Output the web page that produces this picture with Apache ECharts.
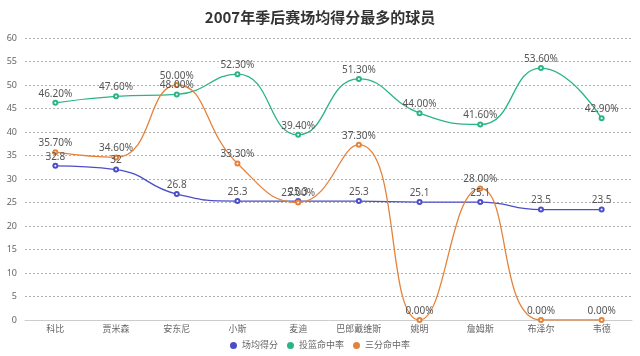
<!DOCTYPE html>
<html><head><meta charset="utf-8">
<script src="https://cdn.jsdelivr.net/npm/echarts@6/dist/echarts.min.js"></script>
<style>html,body{margin:0;padding:0;background:#fff}#c{width:640px;height:356px}</style>
</head><body><div id="c"></div>
<script>
const categories = ['科比','贾米森','安东尼','小斯','麦迪','巴郎戴维斯','姚明','詹姆斯','布泽尔','韦德'];
const points = [32.8, 32, 26.8, 25.3, 25.3, 25.3, 25.1, 25.1, 23.5, 23.5];
const fgPct = [46.2, 47.6, 48.0, 52.3, 39.4, 51.3, 44.0, 41.6, 53.6, 42.9];
const threePct = [35.7, 34.6, 50.0, 33.3, 25.0, 37.3, 0, 28.0, 0, 0];
const yTicks = {min: 0, max: 60, interval: 5};

const chart = echarts.init(document.getElementById('c'));
const font = '"Noto Sans","Noto Sans CJK SC",sans-serif';
function mk(name, data, color, pct) {
  return {
    name, type: 'line', data, smooth: true,
    symbol: 'emptyCircle', symbolSize: 4,
    itemStyle: {color}, lineStyle: {color, width: 1.3},
    label: {show: true, position: 'top', color: '#555', fontSize: 10, fontFamily: font, distance: 1,
      formatter: p => pct ? p.value.toFixed(2) + '%' : String(p.value)}
  };
}
chart.setOption({
  animation: false,
  title: {text: '2007年季后赛场均得分最多的球员', left: 'center', top: 5,
    textStyle: {fontSize: 15, fontWeight: 'bold', color: '#333', fontFamily: '"Noto Sans CJK SC",sans-serif'}},
  legend: {bottom: 1, itemWidth: 7, itemHeight: 7, icon: 'circle', itemGap: 9,
    textStyle: {fontSize: 9, color: '#666', fontFamily: font},
    data: ['场均得分','投篮命中率','三分命中率']},
  grid: {left: 25, right: 8, top: 38, bottom: 36},
  xAxis: {type: 'category', data: categories,
    axisLine: {lineStyle: {color: '#ccc'}}, axisTick: {show: false},
    axisLabel: {color: '#666', fontSize: 9, fontFamily: font, interval: 0, margin: 5}},
  yAxis: {type: 'value', min: yTicks.min, max: yTicks.max, interval: yTicks.interval,
    axisLine: {show: false}, axisTick: {show: false},
    axisLabel: {color: '#666', fontSize: 9, fontFamily: font, margin: 8},
    splitLine: {lineStyle: {type: [2, 2], color: '#b0b0b0'}}},
  series: [
    mk('场均得分', points, '#4b4ec8', false),
    mk('投篮命中率', fgPct, '#2bb585', true),
    mk('三分命中率', threePct, '#e5823a', true)
  ]
});
</script></body></html>
